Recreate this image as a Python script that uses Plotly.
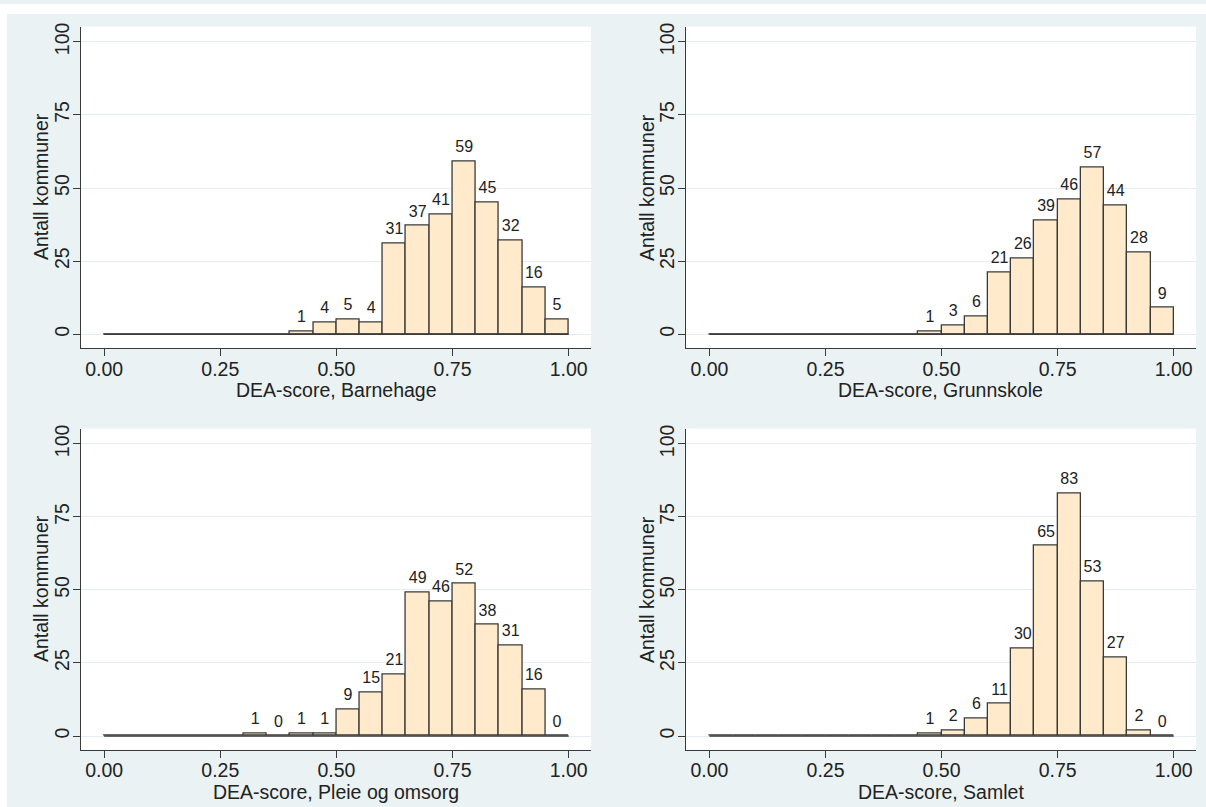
import plotly.graph_objects as go

# ---------------- data ----------------
bin_centers = [0.025, 0.075, 0.125, 0.175, 0.225, 0.275, 0.325, 0.375, 0.425, 0.475,
               0.525, 0.575, 0.625, 0.675, 0.725, 0.775, 0.825, 0.875, 0.925, 0.975]
bin_width = 0.05

barnehage = [0, 0, 0, 0, 0, 0, 0, 0, 1, 4, 5, 4, 31, 37, 41, 59, 45, 32, 16, 5]
grunnskole = [0, 0, 0, 0, 0, 0, 0, 0, 0, 1, 3, 6, 21, 26, 39, 46, 57, 44, 28, 9]
pleie = [0, 0, 0, 0, 0, 0, 1, 0, 1, 1, 9, 15, 21, 49, 46, 52, 38, 31, 16, 0]
samlet = [0, 0, 0, 0, 0, 0, 0, 0, 0, 1, 2, 6, 11, 30, 65, 83, 53, 27, 2, 0]

x_titles = ["DEA-score, Barnehage", "DEA-score, Grunnskole",
            "DEA-score, Pleie og omsorg", "DEA-score, Samlet"]
y_title = "Antall kommuner"
x_ticks = [0.0, 0.25, 0.5, 0.75, 1.0]
y_ticks = [0, 25, 50, 75, 100]
x_range_line = [0.0, 1.0]

series = [barnehage, grunnskole, pleie, samlet]

# ---------------- style ----------------
W, H = 1206, 807
BG = "#EAF2F3"
BAR_FILL = "#FFEBCB"
EDGE = "#3a3a3a"
TXT = "#222222"
FONT = "Liberation Sans, Arial, sans-serif"

# pixel boxes of plot areas (left, right, top, bottom)
boxes = [
    (80.7, 591.0, 22.7, 345.7),
    (686.0, 1196.0, 22.7, 345.7),
    (80.7, 591.0, 426.7, 749.5),
    (686.0, 1196.0, 426.7, 749.5),
]
# pixel centres for axis titles
xtitle_pos = [(336, 388), (941, 388), (336, 792), (941, 792)]
ytitle_pos = [(41, 184), (647, 184), (41, 588), (647, 588)]

fig = go.Figure()
layout = dict(
    width=W, height=H,
    margin=dict(l=0, r=0, t=0, b=0, pad=0),
    paper_bgcolor=BG,
    plot_bgcolor="white",
    showlegend=False,
    font=dict(family=FONT, color=TXT, size=19),
)
annotations = []

for i, (vals, xt) in enumerate(zip(series, x_titles)):
    n = i + 1
    xa = "x" if n == 1 else f"x{n}"
    ya = "y" if n == 1 else f"y{n}"
    # zero baseline (outline of empty bins)
    fig.add_trace(go.Scatter(x=x_range_line, y=[0, 0], mode="lines",
                             line=dict(color=EDGE, width=1.6),
                             xaxis=xa, yaxis=ya, hoverinfo="skip"))
    fig.add_trace(go.Bar(x=bin_centers, y=vals, width=bin_width,
                         marker=dict(color=BAR_FILL, line=dict(color=EDGE, width=1.3)),
                         xaxis=xa, yaxis=ya))
    first = next(k for k, v in enumerate(vals) if v > 0)
    lx = bin_centers[first:]
    ly = vals[first:]
    lt = [str(v) for v in ly]
    fig.add_trace(go.Scatter(x=lx, y=ly, text=lt, mode="markers+text",
                             marker=dict(size=7, color="rgba(0,0,0,0)"),
                             textposition="top center",
                             textfont=dict(size=16, color=TXT, family=FONT),
                             xaxis=xa, yaxis=ya, hoverinfo="skip", cliponaxis=False))

    l, r, t, b = boxes[i]
    xdom = [l / W, r / W]
    ydom = [1 - b / H, 1 - t / H]
    xkey = "xaxis" if n == 1 else f"xaxis{n}"
    ykey = "yaxis" if n == 1 else f"yaxis{n}"
    layout[xkey] = dict(
        domain=xdom, anchor=ya, range=[-0.0505, 1.048],
        tickvals=x_ticks, tickformat=".2f",
        ticks="outside", ticklen=7, tickwidth=1.2, tickcolor=EDGE,
        showline=True, linecolor=EDGE, linewidth=1.3,
        showgrid=False, zeroline=False,
        tickfont=dict(size=19.5, color=TXT),
        ticklabelstandoff=-4,
    )
    layout[ykey] = dict(
        domain=ydom, anchor=xa, range=[-4.7, 105.2],
        tickvals=y_ticks, tickangle=-90,
        ticks="outside", ticklen=7, tickwidth=1.2, tickcolor=EDGE,
        showline=True, linecolor=EDGE, linewidth=1.3,
        showgrid=True, gridcolor="#E4EEF0", gridwidth=1,
        zeroline=False,
        tickfont=dict(size=19.5, color=TXT),
        ticklabelstandoff=-4,
    )
    xp, yp = xtitle_pos[i]
    annotations.append(dict(text=xt, x=xp / W, y=1 - yp / H, xref="paper", yref="paper",
                            showarrow=False, xanchor="center", yanchor="middle",
                            font=dict(size=19.5, color=TXT, family=FONT)))
    xp, yp = ytitle_pos[i]
    annotations.append(dict(text=y_title, x=xp / W, y=1 - yp / H, xref="paper", yref="paper",
                            showarrow=False, xanchor="center", yanchor="middle", textangle=-90,
                            font=dict(size=19.5, color=TXT, family=FONT)))

layout["annotations"] = annotations
layout["shapes"] = [
    dict(type="rect", xref="paper", yref="paper", x0=0, x1=1, y0=1 - 10 / H, y1=1,
         fillcolor="white", line=dict(width=0), layer="above"),
    dict(type="rect", xref="paper", yref="paper", x0=0, x1=7 / W, y0=0, y1=1,
         fillcolor="white", line=dict(width=0), layer="above"),
]
layout["bargap"] = 0
fig.update_layout(**layout)
fig.write_html("out.html", config={"displayModeBar": False},
               post_script="document.body.style.margin='0px';document.body.style.overflow='hidden';")
